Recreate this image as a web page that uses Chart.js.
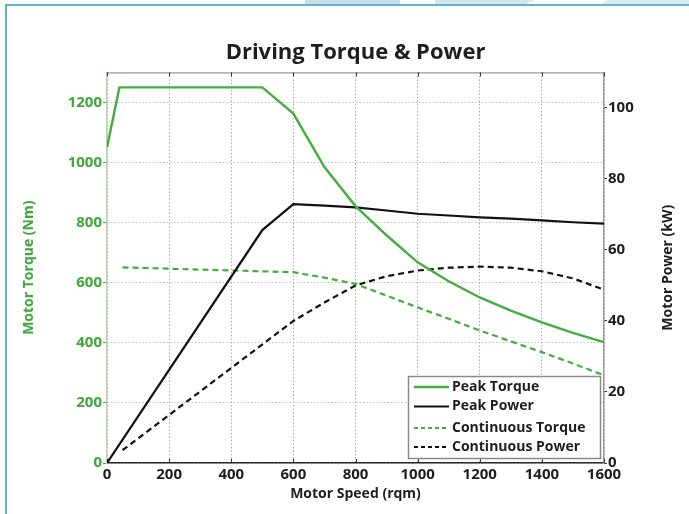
<!DOCTYPE html>
<html>
<head>
<meta charset="utf-8">
<script src="https://cdn.jsdelivr.net/npm/chart.js@4.4.1/dist/chart.umd.min.js"></script>
<style>
  html, body { margin: 0; padding: 0; background: #fff; }
  #wrap { position: relative; width: 689px; height: 514px; overflow: hidden; background: #fff; }
  .deco { position: absolute; top: 0; height: 5px; }
  #frameTop { position: absolute; left: 5px; top: 4px; width: 684px; height: 2px; background: #5db5c8; }
  #frameLeft { position: absolute; left: 5px; top: 4px; width: 2px; height: 510px; background: #5db5c8; }
  canvas { position: absolute; left: 0; top: 0; }
</style>
</head>
<body>
<div id="wrap">
  <div class="deco" style="left:305px;width:95px;background:#c9dce9;"></div>
  <div class="deco" style="left:435px;width:100px;background:#d2e5ed;clip-path:polygon(0 0,100% 0,88% 100%,0 100%);"></div>
  <div class="deco" style="left:600px;width:89px;background:#dde9ee;clip-path:polygon(8% 0,100% 0,100% 100%,0 100%);"></div>
  <div id="frameTop"></div>
  <div id="frameLeft"></div>
  <canvas id="c" width="689" height="514"></canvas>
</div>
<script>
// ---- Data ----
const peakTorqueSpeed = [0, 40, 500, 600, 700, 800, 900, 1000, 1100, 1200, 1300, 1400, 1500, 1600];
const peakTorque      = [1050, 1250, 1250, 1163, 985, 855, 758, 668, 605, 551, 507, 468, 433, 402];

const peakPowerSpeed  = [0, 500, 600, 700, 800, 900, 1000, 1100, 1200, 1300, 1400, 1500, 1600];
const peakPower       = [0, 65.6, 72.9, 72.5, 72.0, 71.1, 70.2, 69.7, 69.2, 68.8, 68.3, 67.8, 67.4];

const contSpeed       = [50, 600, 700, 800, 900, 1000, 1100, 1200, 1300, 1400, 1500, 1600];
const contTorque      = [651, 635, 617, 596, 557, 518, 480, 441, 405, 369, 331, 292];
const contPower       = [3.6, 40.0, 45.2, 50.0, 52.6, 54.2, 55.0, 55.3, 55.0, 54.0, 52.0, 48.8];

const speedTicks  = [0, 200, 400, 600, 800, 1000, 1200, 1400, 1600];
const torqueTicks = [0, 200, 400, 600, 800, 1000, 1200];
const powerTicks  = [0, 20, 40, 60, 80, 100];

const seriesNames = ['Peak Torque', 'Peak Power', 'Continuous Torque', 'Continuous Power'];
const powerAxisTitle = 'Motor Power (kW)';

const GREEN = '#3ea73a';
const LINE_GREEN = '#44ad3d';
const DARK = '#1e1e1e';
const FONT = "'Open Sans', 'DejaVu Sans', sans-serif";

const pts = (xs, ys) => xs.map((x, i) => ({x: x, y: ys[i]}));
const plain = v => String(v);

const framePlugin = {
  id: 'frameExtras',
  beforeDatasetsDraw(chart) {
    const {ctx, chartArea: a, scales} = chart;
    ctx.save();
    ctx.strokeStyle = '#9a9a9a';
    ctx.lineWidth = 1.2;
    ctx.beginPath();
    ctx.moveTo(a.left, a.top + 0.5);
    ctx.lineTo(a.right, a.top + 0.5);
    ctx.stroke();
    ctx.strokeStyle = '#333';
    ctx.lineWidth = 1;
    speedTicks.forEach(v => {
      const x = Math.round(scales.x.getPixelForValue(v)) + 0.5;
      ctx.beginPath();
      ctx.moveTo(x, a.top); ctx.lineTo(x, a.top + 4);
      ctx.moveTo(x, a.bottom); ctx.lineTo(x, a.bottom - 4);
      ctx.stroke();
    });
    ctx.restore();
  },
  afterDraw(chart) {
    const {ctx, chartArea: a} = chart;
    ctx.save();
    ctx.translate(668, (a.top + a.bottom) / 2);
    ctx.rotate(-Math.PI / 2);
    ctx.font = "bold 14px " + FONT;
    ctx.fillStyle = DARK;
    ctx.textAlign = 'center';
    ctx.textBaseline = 'middle';
    ctx.fillText(powerAxisTitle, 0, 0);
    ctx.restore();
  }
};

const legendPlugin = {
  id: 'boxLegend',
  afterDatasetsDraw(chart) {
    const {ctx, chartArea: a} = chart;
    const w = 192, h = 82;
    const x0 = a.right - 4 - w, y0 = a.bottom - 5 - h;
    ctx.save();
    ctx.fillStyle = '#fff';
    ctx.fillRect(x0, y0, w, h);
    ctx.strokeStyle = '#8a8a8a';
    ctx.lineWidth = 1.5;
    ctx.strokeRect(x0 + 0.5, y0 + 0.5, w, h);
    const rows = [11, 30.5, 52, 71];
    ctx.font = "bold 14px " + FONT;
    ctx.textBaseline = 'middle';
    ctx.textAlign = 'left';
    chart.data.datasets.forEach((ds, i) => {
      const y = y0 + rows[i];
      ctx.strokeStyle = ds.borderColor;
      ctx.lineWidth = ds.borderWidth;
      ctx.setLineDash(ds.borderDash ? [4, 3] : []);
      ctx.beginPath();
      ctx.moveTo(x0 + 6, y);
      ctx.lineTo(x0 + 41, y);
      ctx.stroke();
      ctx.setLineDash([]);
      ctx.fillStyle = DARK;
      ctx.fillText(ds.label, x0 + 44, y);
    });
    ctx.restore();
  }
};

new Chart(document.getElementById('c'), {
  type: 'line',
  data: {
    datasets: [
      { label: seriesNames[0], data: pts(peakTorqueSpeed, peakTorque), yAxisID: 'y',
        borderColor: LINE_GREEN, borderWidth: 2.4, pointRadius: 0, tension: 0, fill: false },
      { label: seriesNames[1], data: pts(peakPowerSpeed, peakPower), yAxisID: 'y1',
        borderColor: '#111', borderWidth: 2.2, pointRadius: 0, tension: 0, fill: false },
      { label: seriesNames[2], data: pts(contSpeed, contTorque), yAxisID: 'y',
        borderColor: LINE_GREEN, borderWidth: 2.2, borderDash: [6, 4], pointRadius: 0, tension: 0, fill: false },
      { label: seriesNames[3], data: pts(contSpeed, contPower), yAxisID: 'y1',
        borderColor: '#111', borderWidth: 2.2, borderDash: [6, 4], pointRadius: 0, tension: 0, fill: false }
    ]
  },
  options: {
    responsive: false,
    animation: false,
    layout: { padding: 0 },
    plugins: {
      legend: { display: false },
      tooltip: { enabled: false },
      title: {
        display: true,
        text: 'Driving Torque & Power',
        fullSize: false,
        color: DARK,
        font: { family: FONT, size: 22, weight: 'bold', lineHeight: 1.2 },
        padding: { top: 40, bottom: 6 }
      }
    },
    scales: {
      x: {
        type: 'linear', position: 'bottom', min: 0, max: 1600,
        afterBuildTicks: s => { s.ticks = speedTicks.map(v => ({value: v})); },
        afterFit: s => { s.height = 51; },
        grid: { color: '#ababab', drawTicks: false, lineWidth: 1 },
        border: { color: '#2a2a2a', width: 1.6, dash: [1.5, 2] },
        ticks: { color: DARK, padding: 3, maxRotation: 0, callback: plain, font: { family: FONT, size: 15, weight: 'bold' } },
        title: { display: true, text: 'Motor Speed (rqm)', color: DARK,
                 font: { family: FONT, size: 14, weight: 'bold', lineHeight: 1.2 }, padding: { top: 0, bottom: 12 } }
      },
      y: {
        type: 'linear', position: 'left', min: 0, max: 1300,
        afterBuildTicks: s => { s.ticks = torqueTicks.map(v => ({value: v})); },
        afterFit: s => { s.width = 107; },
        grid: { color: '#bcc6b7', tickColor: GREEN, tickLength: 4, lineWidth: 1 },
        border: { color: '#b5d6a8', width: 1.4, dash: [1.5, 2] },
        ticks: { color: GREEN, padding: 1, callback: plain, font: { family: FONT, size: 15, weight: 'bold' } },
        title: { display: true, text: 'Motor Torque (Nm)', color: GREEN,
                 font: { family: FONT, size: 14, weight: 'bold', lineHeight: 1.2 }, padding: { top: 21, bottom: 0 } }
      },
      y1: {
        type: 'linear', position: 'right', min: 0, max: 110,
        afterBuildTicks: s => { s.ticks = powerTicks.map(v => ({value: v})); },
        afterFit: s => { s.width = 85; },
        grid: { drawOnChartArea: false, tickColor: '#333', tickLength: 3 },
        border: { color: '#9a9a9a', width: 1.4 },
        ticks: { color: DARK, padding: 1, callback: plain, font: { family: FONT, size: 15, weight: 'bold' } },
        title: { display: false }
      }
    }
  },
  plugins: [framePlugin, legendPlugin]
});
</script>
</body>
</html>
